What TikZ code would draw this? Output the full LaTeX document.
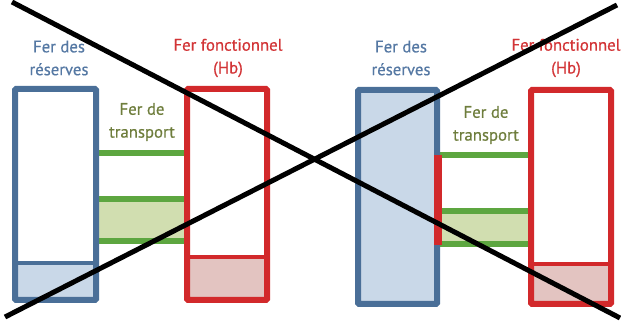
\documentclass[tikz,border=0pt]{standalone}
\usepackage{fontspec}
\setmainfont{PT Sans}
\newfontfamily\diagfont[FakeBold=0.6]{PT Sans}
\usepackage{xcolor}
\usepackage{tikz}
\usetikzlibrary{positioning}

\definecolor{resblue}{HTML}{4A6F98}
\definecolor{resfill}{HTML}{C9D8E8}
\definecolor{hbred}{HTML}{D2292B}
\definecolor{hbfill}{HTML}{E3C4C1}
\definecolor{trgreen}{HTML}{5DA640}
\definecolor{trfill}{HTML}{D1DEB0}
\definecolor{trtext}{HTML}{6E7D3C}
\definecolor{restext}{HTML}{5578A3}
\definecolor{hbtext}{HTML}{D23436}

\begin{document}
\begin{tikzpicture}[
    x=0.03cm, y=-0.03cm,
    txt/.style={align=center, inner sep=0pt, font=\diagfont\fontsize{14.3}{19.5}\selectfont},
    restxt/.style={txt, text=restext},
    hbtxt/.style={txt, text=hbtext},
    trtxt/.style={txt, text=trtext},
    resbox/.style={draw=resblue, line width=0.18cm, rounded corners=1pt},
    hbbox/.style={draw=hbred, line width=0.18cm, rounded corners=1pt},
    trband/.style={draw=trgreen, line width=0.17cm},
    cross/.style={draw=black, line width=0.15cm},
]
    \useasboundingbox (0,0) rectangle (621,321);

    % avant
    \fill[resfill] (15,263) rectangle (96,300);
    \fill[hbfill] (187,257) rectangle (267,300);
    \fill[trfill] (96,199) rectangle (187,241);
    \draw[trband] (96,153) -- (187,153);
    \draw[trband] (96,199) -- (187,199);
    \draw[trband] (96,241) -- (187,241);
    \draw[resbox] (15,89) rectangle (96,300);
    \draw[draw=resblue, line width=0.11cm] (15,263) -- (96,263);
    \draw[hbbox] (187,89) rectangle (267,300);
    \draw[draw=hbred, line width=0.11cm] (187,257) -- (267,257);

    \node[restxt] (res1) at (59,58) {Fer des\\réserves};
    \node[hbtxt] (hb1) at (228,58) {Fer fonctionnel\\(Hb)};
    \node[trtxt] (tr1) at (142,122) {Fer de\\transport};

    % après
    \fill[resfill] (358,90) rectangle (437,304);
    \fill[hbfill] (531,264) rectangle (611,304);
    \fill[trfill] (437,211) rectangle (531,244);
    \draw[trband] (437,155) -- (531,155);
    \draw[trband] (437,211) -- (531,211);
    \draw[trband] (437,244) -- (531,244);
    \draw[resbox] (358,90) rectangle (437,304);
    \draw[draw=hbred, line width=0.26cm] (438,155) -- (438,245);
    \draw[hbbox] (531,90) rectangle (611,304);
    \draw[draw=hbred, line width=0.11cm] (531,264) -- (611,264);

    \node[restxt] (res2) at (401,58) {Fer des\\réserves};
    \node[hbtxt] (hb2) at (566,58) {Fer fonctionnel\\(Hb)};
    \node[trtxt] (tr2) at (486,125) {Fer de\\transport};

    \coordinate (a1) at (12,2);
    \coordinate (a2) at (620,318);
    \coordinate (b1) at (5,317);
    \coordinate (b2) at (617,5);
    \draw[cross] (a1) -- (a2);
    \draw[cross] (b1) -- (b2);
\end{tikzpicture}
\end{document}
